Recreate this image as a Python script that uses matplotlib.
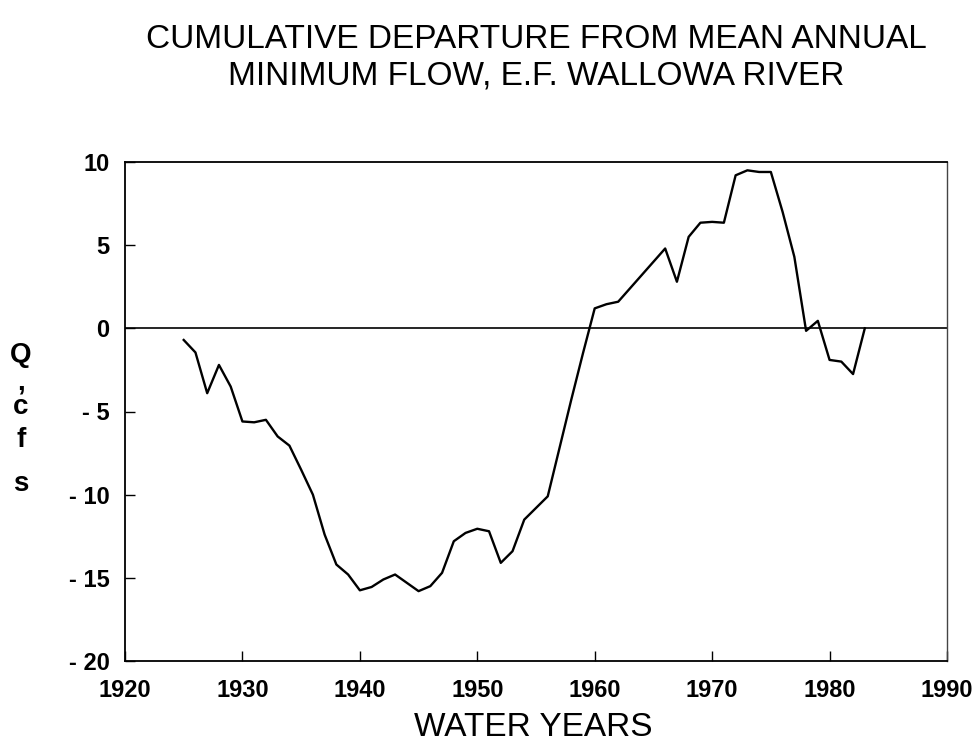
import matplotlib
matplotlib.use("Agg")
import matplotlib.pyplot as plt

years = list(range(1925, 1984))
departure = [-0.7, -1.45, -3.9, -2.2, -3.5, -5.6, -5.65, -5.5, -6.5, -7.05,
             -8.5, -10.0, -12.4, -14.2, -14.8, -15.75, -15.55, -15.1, -14.8, -15.3,
             -15.8, -15.5, -14.7, -12.8, -12.3, -12.05, -12.2, -14.1, -13.4, -11.5,
             -10.8, -10.1, -7.2, -4.3, -1.5, 1.2, 1.45, 1.6, 2.4, 3.2,
             4.0, 4.8, 2.8, 5.5, 6.35, 6.4, 6.35, 9.2, 9.5, 9.4,
             9.4, 7.0, 4.3, -0.15, 0.45, -1.9, -2.0, -2.75, 0.0]
xticks = [1920, 1930, 1940, 1950, 1960, 1970, 1980, 1990]
yticks = [10, 5, 0, -5, -10, -15, -20]
ytick_labels = ["10", "5", "0", "- 5", "- 10", "- 15", "- 20"]

title_font = ['Liberation Sans', 'DejaVu Sans']
plt.rcParams['font.family'] = ['Liberation Sans', 'DejaVu Sans']

fig = plt.figure(figsize=(9.8, 7.46), dpi=100)
ax = fig.add_axes([125/980, 1-661/746, (947-125)/980, (661-162)/746])

ax.plot(years, departure, color='black', lw=1.7)
ax.axhline(0, color='black', lw=1.2)

ax.set_xlim(1920, 1990)
ax.set_ylim(-20, 10)
ax.set_xticks(xticks)
ax.set_xticklabels([str(t) for t in xticks], fontsize=17, fontweight='bold')
ax.set_yticks(yticks)
ax.set_yticklabels(ytick_labels, fontsize=17, fontweight='bold')
ax.tick_params(direction='in', length=7, width=1.0, top=False, right=False)
ax.tick_params(axis='x', pad=13)
ax.tick_params(axis='y', pad=11)
for s in ax.spines.values():
    s.set_linewidth(1.3)
ax.spines['right'].set_linewidth(1.0)
ax.spines['right'].set_color('#444444')

fig.text(536/980, 1-40/746, "CUMULATIVE DEPARTURE FROM MEAN ANNUAL",
         ha='center', va='center', fontsize=24, family=title_font)
fig.text(536/980, 1-76/746, "MINIMUM FLOW, E.F. WALLOWA RIVER",
         ha='center', va='center', fontsize=24, family=title_font)
fig.text(533/980, 1-728/746, "WATER YEARS", ha='center', va='center',
         fontsize=24, family=title_font)

for ch, yy in [("Q", 355), (",", 383), ("c", 407), ("f", 440), ("s", 484)]:
    fig.text(21/980, 1-yy/746, ch, ha='center', va='center', fontsize=20,
             fontweight='bold')

fig.savefig("out.png", dpi=100)
